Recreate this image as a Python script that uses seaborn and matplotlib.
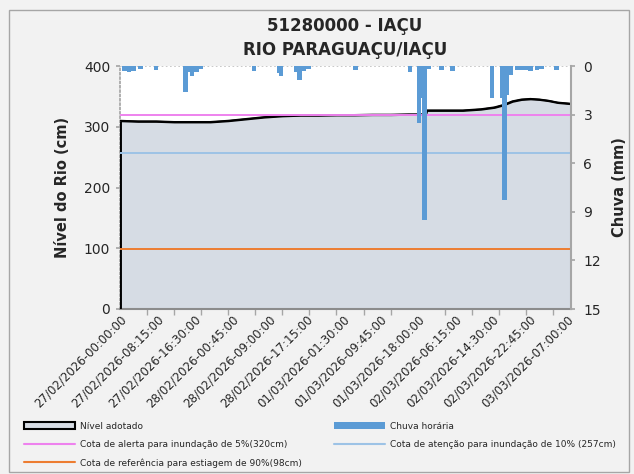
import numpy as np
import pandas as pd
import matplotlib
matplotlib.use("Agg")
import matplotlib.pyplot as plt
import seaborn as sns
from matplotlib.patches import Patch, Rectangle
from matplotlib.lines import Line2D

sns.set_theme(style="white")
plt.rcParams['font.family'] = ['DejaVu Sans']

# ---------------- data ----------------
title_text = "51280000 - IAÇU\nRIO PARAGUAÇU/IAÇU"
segments = [("2026-02-27 00:00", "2026-03-01 19:45"),
            ("2026-03-02 00:00", "2026-03-03 08:00")]

level_time = ["2026-02-27 00:00", "2026-02-27 04:00", "2026-02-27 08:00", "2026-02-27 12:00",
              "2026-02-27 16:00", "2026-02-27 20:00", "2026-02-28 00:00", "2026-02-28 04:00",
              "2026-02-28 08:00", "2026-02-28 12:00", "2026-02-28 16:00", "2026-02-28 20:00",
              "2026-03-01 00:00", "2026-03-01 04:00", "2026-03-01 08:00", "2026-03-01 12:00",
              "2026-03-01 16:00", "2026-03-01 19:45",
              "2026-03-02 00:00", "2026-03-02 04:00", "2026-03-02 08:00", "2026-03-02 12:00",
              "2026-03-02 15:00", "2026-03-02 17:00", "2026-03-02 19:00", "2026-03-02 21:00",
              "2026-03-02 23:00", "2026-03-03 01:00", "2026-03-03 03:00", "2026-03-03 05:00",
              "2026-03-03 08:00"]
level_cm = [310, 309, 309, 308, 308, 308, 310, 313,
            316, 318, 319, 319, 319.5, 319.5, 320, 320,
            320.5, 320.5,
            327, 327, 327, 329, 332, 336, 342, 345,
            346, 345, 343, 340, 338]

rain_time = ["2026-02-27 00:30", "2026-02-27 01:30", "2026-02-27 02:30", "2026-02-27 04:00",
             "2026-02-27 07:30", "2026-02-27 14:00", "2026-02-27 15:00", "2026-02-27 15:30",
             "2026-02-27 16:30", "2026-02-27 17:30", "2026-02-28 05:15", "2026-02-28 10:45",
             "2026-02-28 11:15", "2026-02-28 14:30", "2026-02-28 15:15", "2026-02-28 16:15",
             "2026-02-28 17:15", "2026-03-01 03:45", "2026-03-01 15:45", "2026-03-01 17:45",
             "2026-03-01 18:30", "2026-03-01 19:00", "2026-03-02 00:00", "2026-03-02 02:45",
             "2026-03-02 05:15", "2026-03-02 14:00", "2026-03-02 16:15", "2026-03-02 17:15",
             "2026-03-02 16:45", "2026-03-02 18:15", "2026-03-02 19:30", "2026-03-02 20:30",
             "2026-03-02 21:30", "2026-03-02 22:30", "2026-03-03 00:00", "2026-03-03 01:00",
             "2026-03-03 04:15"]
rain_mm = [0.3, 0.4, 0.3, 0.2,
           0.25, 1.6, 0.37, 0.6,
           0.37, 0.2, 0.33, 0.45,
           0.6, 0.37, 0.86, 0.33,
           0.2, 0.25, 0.35, 3.5,
           2.0, 9.5, 0.2, 0.25,
           0.3, 1.95, 2.0, 1.8,
           8.3, 0.55, 0.25, 0.25,
           0.25, 0.3, 0.25, 0.2,
           0.25]

alert_cm = 320
attention_cm = 257
drought_cm = 98

label_every = 33  # one label each 8h15 (33 records of 15 min)

# ---------------- build category axis ----------------
times = pd.DatetimeIndex([])
for s, e in segments:
    times = times.append(pd.date_range(s, e, freq="15min"))
pos = {t: i for i, t in enumerate(times)}

lvl_x = np.array([pos[pd.Timestamp(t)] for t in level_time])
lvl_y = np.array(level_cm)
rain_x = np.array([pos[pd.Timestamp(t)] for t in rain_time])
rain_y = np.array(rain_mm)

# ---------------- figure ----------------
W, H = 634, 474
fig = plt.figure(figsize=(W / 100, H / 100), dpi=100, facecolor="#f2f2f2")
fig.patches.append(Rectangle((9 / W, 2 / H), 620 / W, 462 / H, transform=fig.transFigure,
                             fill=False, edgecolor="#a6a6a6", lw=1.0))

ax = fig.add_axes([120 / W, (H - 309) / H, 451 / W, 243 / H])
ax.set_facecolor("white")

ax.fill_between(lvl_x, lvl_y, 0, color="#d6dce4", edgecolor="black", lw=1.5, zorder=2)
sns.lineplot(x=lvl_x, y=lvl_y, color="black", lw=1.3, ax=ax, zorder=3)
ax.vlines(lvl_x[0], 0, lvl_y[0], color="black", lw=2.0, zorder=3)

ax.axhline(400, color="#bfbfbf", ls=(0, (1, 1.5)), lw=1.2, zorder=1)
ax.axhline(alert_cm, color="#ee82ee", lw=1.4, zorder=4)
ax.axhline(attention_cm, color="#9dc3e6", lw=1.4, zorder=4)
ax.axhline(drought_cm, color="#ed7d31", lw=1.4, zorder=4)

ax.set_xlim(0, len(times) - 1)
ax.set_ylim(0, 400)
ax.set_yticks([0, 100, 200, 300, 400])
ax.tick_params(axis="y", labelsize=10, length=3, color="#a6a6a6", left=True, pad=4)
ax.set_xticks(np.arange(0, len(times), label_every))
ax.set_xticks(np.arange(0, len(times), 24), minor=True)
ax.set_xticklabels([times[i].strftime("%d/%m/%Y-%H:%M:%S") for i in range(0, len(times), label_every)],
                   rotation=45, ha="right", rotation_mode="anchor", fontsize=8.5)
ax.tick_params(axis="x", which="major", length=0, pad=3)
ax.tick_params(axis="x", which="minor", length=4, color="#a6a6a6", bottom=True)
ax.set_ylabel("Nível do Rio (cm)", fontsize=10.5, fontweight="bold", labelpad=10)
ax.set_xlabel("")

ax.spines["top"].set_visible(False)
ax.spines["left"].set_color("#a6a6a6")
ax.spines["left"].set_linestyle((0, (1, 1.5)))
ax.spines["bottom"].set_color("#8c8c8c")
ax.spines["bottom"].set_linewidth(1.5)
ax.spines["right"].set_visible(False)

ax2 = ax.twinx()
ax2.bar(rain_x, rain_y, width=4, align="edge", color="#5b9bd5", linewidth=0, zorder=5)
ax2.set_ylim(15, 0)
ax2.set_yticks([0, 3, 6, 9, 12, 15])
ax2.tick_params(axis="y", labelsize=10, length=3, color="#a6a6a6", right=True, pad=6)
ax2.set_ylabel("Chuva (mm)", fontsize=10.5, fontweight="bold", labelpad=8)
for sp in ["top", "left", "bottom"]:
    ax2.spines[sp].set_visible(False)
ax2.spines["right"].set_color("#a6a6a6")
ax2.spines["right"].set_linewidth(1.5)
ax2.grid(False)
ax.grid(False)

fig.text(345 / W, 1 - 38 / H, title_text, ha="center", va="center", fontsize=12,
         fontweight="bold", linespacing=1.4)

# ---------------- legend ----------------
h_level = Patch(facecolor="#d6dce4", edgecolor="black", lw=1.5)
h_alert = Line2D([], [], color="#ee82ee", lw=1.5)
h_drought = Line2D([], [], color="#ed7d31", lw=1.5)
h_rain = Patch(facecolor="#5b9bd5", edgecolor="none")
h_att = Line2D([], [], color="#9dc3e6", lw=1.5)

common = dict(frameon=False, fontsize=6.5, handlelength=5.6, handleheight=0.85,
              handletextpad=0.6, labelspacing=1.0, borderpad=0, borderaxespad=0)
leg1 = fig.legend([h_level, h_alert, h_drought],
                  ["Nível adotado", "Cota de alerta para inundação de 5%(320cm)",
                   "Cota de referência para estiagem de 90%(98cm)"],
                  loc="upper left", bbox_to_anchor=(24 / W, 1 - 422 / H), **common)
leg2 = fig.legend([h_rain, h_att],
                  ["Chuva horária", "Cota de atenção para inundação de 10% (257cm)"],
                  loc="upper left", bbox_to_anchor=(334 / W, 1 - 422 / H), **common)

fig.savefig("out.png", dpi=100, facecolor=fig.get_facecolor())
